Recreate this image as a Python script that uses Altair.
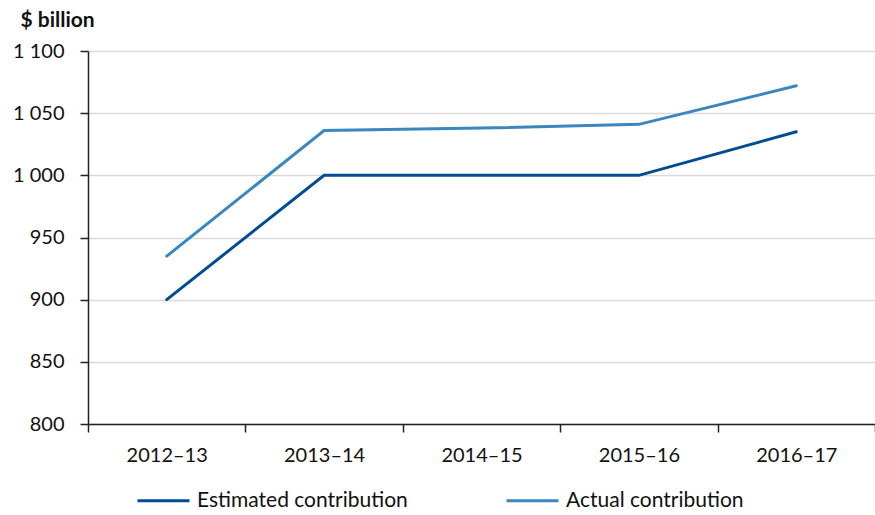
import altair as alt
import pandas as pd

# Contributions by financial year, $ billion
years = ["2012–13", "2013–14", "2014–15", "2015–16", "2016–17"]
estimated = [900, 1000, 1000, 1000, 1035]
actual = [935, 1036, 1038, 1041, 1072]
series_names = ["Estimated contribution", "Actual contribution"]
series_colors = ["#004C93", "#3A86BE"]

rows = []
for y, e, a in zip(years, estimated, actual):
    rows.append({"year": y, "series": series_names[0], "value": e})
    rows.append({"year": y, "series": series_names[1], "value": a})
df = pd.DataFrame(rows)

FONT = "Lato"
FS = 20

chart = (
    alt.Chart(df)
    .mark_line(strokeWidth=3, strokeCap="round")
    .encode(
        x=alt.X(
            "year:N",
            sort=years,
            bandPosition=0.5,
            scale=alt.Scale(type="band", paddingInner=0, paddingOuter=0),
            axis=alt.Axis(
                title=None,
                labelAngle=0,
                tickBand="extent",
                tickSize=8,
                tickColor="#222222",
                tickWidth=1.5,
                domainColor="#222222",
                domainWidth=1.5,
                labelPadding=13,
                labelFontSize=FS,
                labelFont=FONT,
                labelColor="#111111",
                grid=False,
            ),
        ),
        y=alt.Y(
            "value:Q",
            scale=alt.Scale(domain=[800, 1100], nice=False, zero=False),
            axis=alt.Axis(
                values=[800, 850, 900, 950, 1000, 1050, 1100],
                labelExpr="replace(format(datum.value, ','), ',', ' ')",
                title="$ billion",
                titleAngle=0,
                titleAlign="left",
                titleBaseline="middle",
                titleX=-68,
                titleY=-31,
                titleFont=FONT,
                titleFontSize=21,
                titleFontWeight="bold",
                titleColor="#111111",
                tickSize=8,
                tickColor="#222222",
                tickWidth=1.5,
                domainColor="#222222",
                domainWidth=1.5,
                labelPadding=16,
                labelFontSize=FS,
                labelFont=FONT,
                labelColor="#111111",
                gridColor="#D9D9D9",
                gridWidth=1.5,
            ),
        ),
        color=alt.Color(
            "series:N",
            sort=series_names,
            scale=alt.Scale(domain=series_names, range=series_colors),
            legend=alt.Legend(
                title=None,
                orient="none",
                direction="horizontal",
                legendX=48,
                legendY=422,
                symbolType="stroke",
                symbolSize=2704,
                symbolStrokeWidth=3,
                labelFont=FONT,
                labelFontSize=21,
                labelColor="#111111",
                labelOffset=6,
                labelLimit=400,
                columnPadding=92,
            ),
        ),
    )
    .properties(
        width=787,
        height=373,
        autosize=alt.AutoSizeParams(type="none"),
        padding={"left": 88, "top": 51, "right": 0, "bottom": 91},
    )
    .configure_view(stroke=None)
    .configure(background="white")
)

chart.save("out.html", embed_options={"renderer": "svg", "actions": False})
